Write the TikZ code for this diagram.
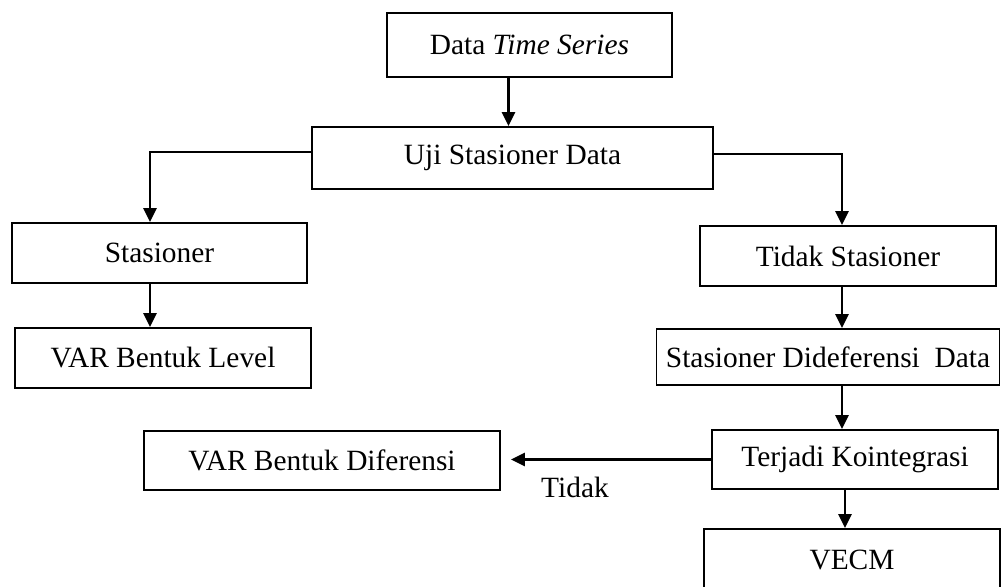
\documentclass[tikz,border=0pt]{standalone}
\usepackage{fontspec}
\setmainfont{Liberation Serif}
\usepackage{tikz}
\usetikzlibrary{positioning,shapes,arrows}
\usetikzlibrary{arrows.meta}
\tikzstyle{proses}=[rectangle, draw=black, line width=0.9pt, text centered, text=black, inner sep=0pt, font=\fontsize{14.7}{17}\selectfont]
\tikzstyle{panah}=[line width=1.2pt, -{Triangle[length=7pt,width=6.5pt]}]
\begin{document}
\begin{tikzpicture}[x=0.5pt, y=-0.5pt]
    \useasboundingbox (0,0) rectangle (1001,586);

    \node (data)[proses, minimum width=142.5pt, minimum height=32pt] at (529.5,45) {Data \textit{Time Series}};
    \node (uji)[proses, minimum width=200.5pt, minimum height=31pt] at (512.5,158) {Uji Stasioner Data};

    \node (stas)[proses, minimum width=147.5pt, minimum height=30pt] at (159.5,253) {Stasioner};
    \node (varlevel)[proses, minimum width=148pt, minimum height=30pt] at (163,358) {VAR Bentuk Level};

    \node (tidak)[proses, minimum width=148pt, minimum height=30pt] at (848,256) {Tidak Stasioner};
    \node (sdd)[proses, minimum width=171.5pt, minimum height=28pt] at (828,357) {Stasioner Dideferensi\ \ Data};
    \node (terjadi)[proses, minimum width=143pt, minimum height=29.5pt] at (855,459.5) {Terjadi Kointegrasi};
    \node (vecm)[proses, minimum width=148pt, minimum height=31pt] at (852,560) {VECM};

    \node (vardif)[proses, minimum width=178pt, minimum height=29.5pt] at (322,460.5) {VAR Bentuk Diferensi};
    \node (lbltidak)[font=\fontsize{14.7}{17}\selectfont] at (575,487) {Tidak};

    \draw [panah] ([xshift=-10.5pt]data.south) -- ([xshift=-10.5pt]data.south |- uji.north);
    \draw [panah] ([yshift=3pt]uji.west) -| ([xshift=-4.75pt]stas.north);
    \draw [panah] ([yshift=2pt]uji.east) -| ([xshift=-3pt]tidak.north);

    \draw [panah] ([xshift=-4.75pt]stas.south) -- ([xshift=-4.75pt]stas.south |- varlevel.north);
    \draw [panah] ([xshift=-3pt]tidak.south) -- ([xshift=-3pt]tidak.south |- sdd.north);
    \draw [panah] ([xshift=-3pt]tidak.south |- sdd.south) -- ([xshift=-3pt]tidak.south |- terjadi.north);
    \draw [panah] ([xshift=-5pt]terjadi.south) -- ([xshift=-5pt]terjadi.south |- vecm.north);

    \draw [panah] (terjadi.west) -- ([xshift=5pt]vardif.east |- terjadi.west);

\end{tikzpicture}
\end{document}
